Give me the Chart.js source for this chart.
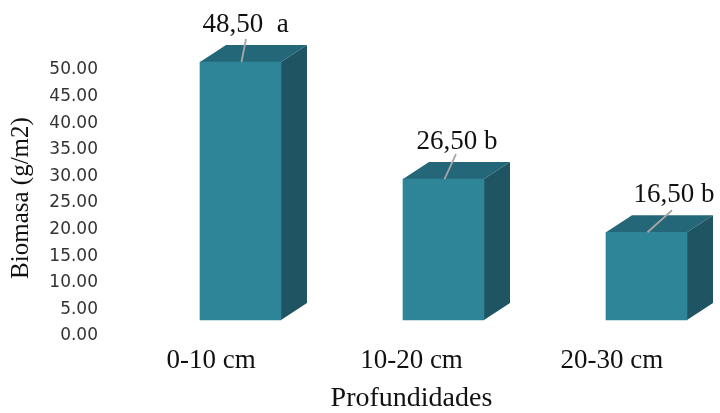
<!DOCTYPE html>
<html><head><meta charset="utf-8">
<script src="https://cdn.jsdelivr.net/npm/chart.js@4/dist/chart.umd.min.js"></script>
<style>html,body{margin:0;padding:0;background:#fff}</style>
</head><body>
<canvas id="c" width="720" height="413"></canvas>
<script>
// ---- data ----
const categories = ['0-10 cm', '10-20 cm', '20-30 cm'];
const biomasa = [48.5, 26.5, 16.5];
const letters = ['a', 'b', 'b'];
const letterGaps = ['  ', ' ', ' '];
const yTickValues = [0, 5, 10, 15, 20, 25, 30, 35, 40, 45, 50];

// ---- style ----
const faceColors = { front: '#2E8598', top: '#246778', side: '#1F5462' };
const depth = { dx: 26, dy: 17 };
const labelShift = [5, 13.5, 27.5];      // label x shift from bar centre
const leaderEnd = [[5.5, -23], [12.5, -25], [25.5, -22]];
const serif = 'Liberation Serif, Times New Roman, serif';

const AREA_TOP = 63;
const VMAX = (333 - AREA_TOP) / 5.32;   // visible axis span
const YSHIFT = 13 / 5.32;               // 3D floor offset

const bar3d = {
  id: 'bar3d',
  beforeDatasetsDraw(chart) {
    const ctx = chart.ctx;
    const meta = chart.getDatasetMeta(0);
    ctx.save();
    meta.data.forEach(el => {
      const p = el.getProps(['x', 'y', 'base', 'width'], true);
      const l = p.x - p.width / 2, r = p.x + p.width / 2, t = p.y, b = p.base;
      ctx.fillStyle = faceColors.top;
      ctx.beginPath();
      ctx.moveTo(l, t); ctx.lineTo(l + depth.dx, t - depth.dy);
      ctx.lineTo(r + depth.dx, t - depth.dy); ctx.lineTo(r, t); ctx.closePath(); ctx.fill();
      ctx.fillStyle = faceColors.side;
      ctx.beginPath();
      ctx.moveTo(r, t); ctx.lineTo(r + depth.dx, t - depth.dy);
      ctx.lineTo(r + depth.dx, b - depth.dy); ctx.lineTo(r, b); ctx.closePath(); ctx.fill();
    });
    ctx.restore();
  },
  afterDatasetsDraw(chart) {
    const ctx = chart.ctx;
    const meta = chart.getDatasetMeta(0);
    ctx.save();
    meta.data.forEach((el, i) => {
      const p = el.getProps(['x', 'y'], true);
      ctx.strokeStyle = '#A6A6A6';
      ctx.lineWidth = 1.8;
      ctx.beginPath();
      ctx.moveTo(p.x + 1, p.y);
      ctx.lineTo(p.x + leaderEnd[i][0], p.y + leaderEnd[i][1]);
      ctx.stroke();
      const txt = biomasa[i].toFixed(2).replace('.', ',') + letterGaps[i] + letters[i];
      ctx.fillStyle = '#111';
      ctx.font = '27px ' + serif;
      ctx.textAlign = 'center';
      ctx.textBaseline = 'alphabetic';
      ctx.fillText(txt, p.x + labelShift[i], p.y - 30);
    });
    ctx.restore();
  }
};

new Chart(document.getElementById('c'), {
  type: 'bar',
  data: {
    labels: categories,
    datasets: [{
      data: categories.map((c, i) => ({ x: i, y: biomasa[i] })),
      xAxisID: 'xb',
      yAxisID: 'yb',
      backgroundColor: faceColors.front,
      borderWidth: 0,
      barThickness: 81,
      clip: false
    }]
  },
  options: {
    responsive: false,
    animation: false,
    devicePixelRatio: 1,
    layout: { padding: { top: AREA_TOP, right: 8, left: 0, bottom: 0 } },
    plugins: { legend: { display: false }, tooltip: { enabled: false } },
    scales: {
      x: {
        type: 'category', position: 'bottom', offset: true,
        grid: { display: false, drawTicks: false }, border: { display: false },
        ticks: { padding: 12, autoSkip: false, maxRotation: 0, color: '#111', font: { family: serif, size: 27 } },
        title: { display: true, text: 'Profundidades', color: '#111', font: { family: serif, size: 28, lineHeight: 1 }, padding: { top: 0, bottom: 0 } },
        afterFit(s) { s.height = 80; }
      },
      xb: { type: 'linear', display: false, offset: false, min: -0.63793, max: 2.32266 },
      y: {
        type: 'linear', position: 'left', min: 0, max: VMAX,
        grid: { display: false, drawTicks: false }, border: { display: false },
        ticks: { padding: 13, labelOffset: 3, color: '#333', font: { family: 'DejaVu Sans', size: 17 }, callback: v => Number(v).toFixed(2) },
        afterBuildTicks(s) { s.ticks = yTickValues.map(v => ({ value: v })); },
        title: { display: true, text: 'Biomasa (g/m2)', color: '#111', font: { family: serif, size: 25, lineHeight: 1.2 }, padding: { top: 6, bottom: 0 } },
        afterFit(s) { s.width = 111; }
      },
      yb: { type: 'linear', position: 'left', display: false, min: -YSHIFT, max: VMAX - YSHIFT }
    }
  },
  plugins: [bar3d]
});
</script>
</body></html>
